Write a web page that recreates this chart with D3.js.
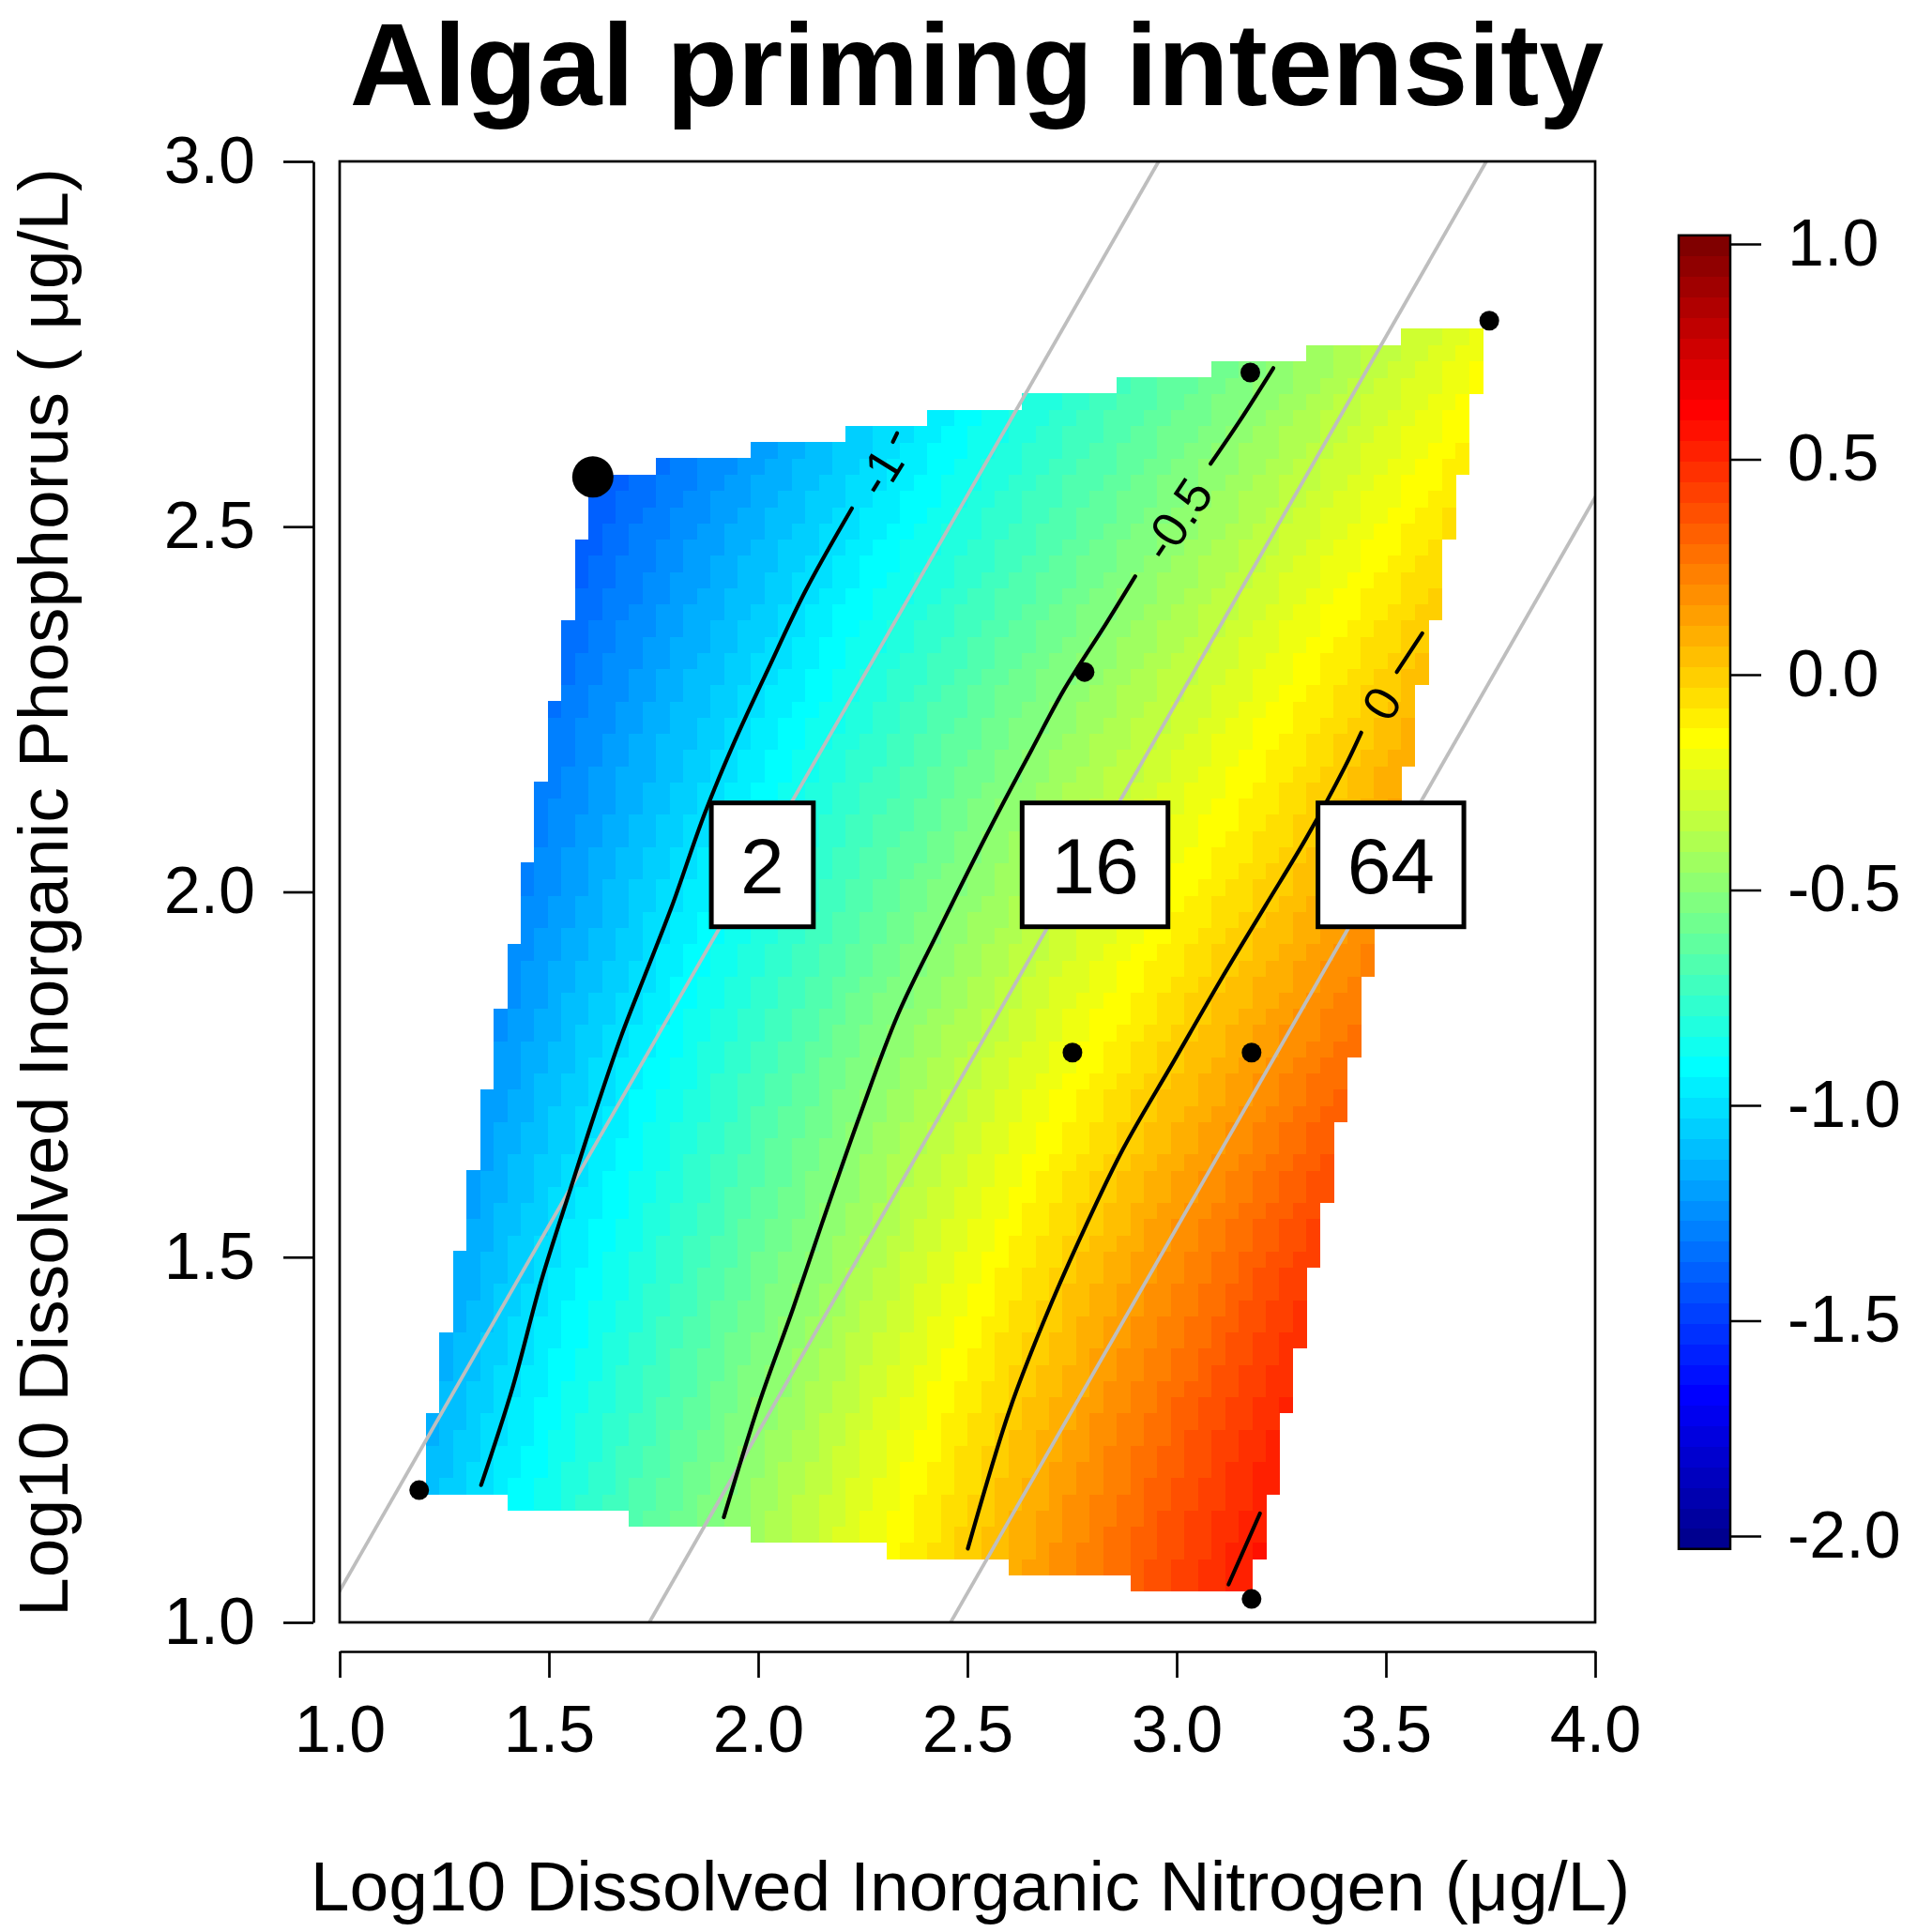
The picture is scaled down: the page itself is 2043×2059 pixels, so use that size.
<!DOCTYPE html>
<html>
<head>
<meta charset="utf-8">
<script src="https://cdn.jsdelivr.net/npm/d3@7"></script>
<style>
  body { margin: 0; background: #fff; }
  svg { display: block; }
  text { font-family: "Liberation Sans", Arial, Helvetica, sans-serif; fill: #000; }
</style>
</head>
<body>
<svg id="chart"></svg>
<script>
const width = 2043, height = 2059;

// sampled sites: log10 DIN and log10 DIP
const siteN = [1.190, 1.605, 3.176, 3.747, 2.780, 2.751, 3.179, 3.179];
const siteP = [1.181, 2.568, 2.711, 2.782, 2.301, 1.780, 1.780, 1.032];
const focalSite = 1;

// fitted surface at knots (rows = P, columns = N)
const knotN = [1.0, 1.25, 1.5, 1.75, 2.0, 2.25, 2.5, 2.75, 3.0, 3.25, 3.5, 3.75, 4.0];
const knotP = [1.0, 1.25, 1.5, 1.75, 2.0, 2.25, 2.5, 2.75, 3.0];
const zGrid = [
  [-1.19, -0.99, -0.78, -0.57, -0.37, -0.16, 0.04, 0.24, 0.44, 0.63, 0.83, 1.03, 1.23],
  [-1.31, -1.10, -0.89, -0.69, -0.48, -0.27, -0.07, 0.13, 0.33, 0.52, 0.72, 0.91, 1.11],
  [-1.40, -1.20, -1.00, -0.80, -0.60, -0.40, -0.20, 0.00, 0.19, 0.38, 0.57, 0.76, 0.95],
  [-1.50, -1.31, -1.11, -0.91, -0.72, -0.52, -0.34, -0.16, 0.02, 0.20, 0.37, 0.55, 0.73],
  [-1.60, -1.41, -1.23, -1.04, -0.86, -0.67, -0.49, -0.32, -0.15, 0.01, 0.18, 0.34, 0.51],
  [-1.67, -1.50, -1.33, -1.16, -0.99, -0.81, -0.64, -0.47, -0.31, -0.15, 0.02, 0.18, 0.34],
  [-1.77, -1.61, -1.45, -1.29, -1.13, -0.97, -0.81, -0.65, -0.49, -0.32, -0.16, 0.00, 0.17],
  [-1.90, -1.75, -1.59, -1.44, -1.28, -1.13, -0.98, -0.82, -0.67, -0.51, -0.34, -0.17, -0.01],
  [-1.99, -1.84, -1.70, -1.55, -1.41, -1.26, -1.12, -0.97, -0.83, -0.68, -0.53, -0.37, -0.19]
];
const gridSize = 80;
const zLimits = [-2.03, 1.02];
const nColors = 64;

// contour lines as traced, split where the labels sit
const contourM1 = [[1.338,1.188],[1.413,1.321],[1.482,1.468],[1.553,1.596],[1.608,1.694],[1.673,1.803],[1.733,1.891],[1.793,1.979],[1.872,2.107],[1.943,2.205],[2.023,2.304],[2.113,2.412],[2.224,2.525]];
const contourM1Tip = [[2.322,2.616],[2.332,2.628]];
const contourM05 = [[1.918,1.144],[2.003,1.301],[2.083,1.429],[2.153,1.547],[2.243,1.694],[2.334,1.832],[2.434,1.950],[2.554,2.087],[2.654,2.195],[2.731,2.277],[2.831,2.367],[2.901,2.432]];
const contourM05Tip = [[3.081,2.586],[3.151,2.645],[3.231,2.717]];
const contourZero = [[2.501,1.101],[2.601,1.291],[2.681,1.410],[2.771,1.528],[2.871,1.647],[2.991,1.766],[3.111,1.885],[3.211,1.980],[3.311,2.075],[3.401,2.170],[3.441,2.218]];
const contourZeroTip = [[3.526,2.301],[3.587,2.354]];
const contourHalf = [[3.124,1.052],[3.199,1.149]];

const contourLabelText = ["-1", "-0.5", "0"];
const contourLabelN = [2.29, 3.00, 3.49];
const contourLabelP = [2.575, 2.51, 2.258];

// N:P ratio lines (log10 P = log10 N - offset)
const ratioLabels = ["2", "16", "64"];
const ratioOffsets = [-0.043, 0.74, 1.46];
const ratioLabelN = [2.01, 2.805, 3.512];
const ratioLabelP = 2.037;

const xTicks = [1.0, 1.5, 2.0, 2.5, 3.0, 3.5, 4.0];
const yTicks = [1.0, 1.5, 2.0, 2.5, 3.0];
const zTicks = [-2.0, -1.5, -1.0, -0.5, 0.0, 0.5, 1.0];

const svg = d3.select("#chart").attr("width", width).attr("height", height);

const x = d3.scaleLinear().domain([1, 4]).range([362, 1700]);
const y = d3.scaleLinear().domain([1, 3]).range([1729, 172]);
const zy = d3.scaleLinear().domain([-2, 1]).range([1637, 260]);

// tim.colors(64) style jet palette
const jet = d3.scaleLinear()
  .domain([0, 7, 23, 39, 55, 63])
  .range(["#00008F", "#0000FF", "#00FFFF", "#FFFF00", "#FF0000", "#800000"])
  .interpolate(d3.interpolateRgb);
const palette = d3.range(nColors).map(jet);
const colorOf = z => {
  const k = Math.floor((z - zLimits[0]) / (zLimits[1] - zLimits[0]) * nColors);
  return palette[Math.max(0, Math.min(nColors - 1, k))];
};

function zAt(n, p) {
  const dn = knotN[1] - knotN[0], dp = knotP[1] - knotP[0];
  let i = Math.floor((n - knotN[0]) / dn), j = Math.floor((p - knotP[0]) / dp);
  i = Math.max(0, Math.min(knotN.length - 2, i));
  j = Math.max(0, Math.min(knotP.length - 2, j));
  const u = (n - knotN[i]) / dn, v = (p - knotP[j]) / dp;
  return (1 - u) * (1 - v) * zGrid[j][i] + u * (1 - v) * zGrid[j][i + 1]
       + (1 - u) * v * zGrid[j + 1][i] + u * v * zGrid[j + 1][i + 1];
}

svg.append("clipPath").attr("id", "plotclip")
  .append("rect").attr("x", 362).attr("y", 172).attr("width", 1338).attr("height", 1557);

// heat cells inside the convex hull of the sites
const sites = siteN.map((n, i) => ({ n, p: siteP[i] }));
const hull = d3.polygonHull(sites.map(d => [d.n, d.p]));
const nMin = d3.min(siteN), nMax = d3.max(siteN);
const pMin = d3.min(siteP), pMax = d3.max(siteP);
const stepN = (nMax - nMin) / (gridSize - 1), stepP = (pMax - pMin) / (gridSize - 1);
const cells = [];
for (let i = 0; i < gridSize; i++) {
  for (let j = 0; j < gridSize; j++) {
    const n = nMin + i * stepN, p = pMin + j * stepP;
    if (d3.polygonContains(hull, [n, p])) cells.push({ n, p, z: zAt(n, p) });
  }
}
const cw = x(1 + stepN) - x(1), ch = y(1) - y(1 + stepP);
svg.append("g").attr("clip-path", "url(#plotclip)")
  .selectAll("rect").data(cells).join("rect")
  .attr("x", d => x(d.n) - cw / 2)
  .attr("y", d => y(d.p) - ch / 2)
  .attr("width", cw + 0.6)
  .attr("height", ch + 0.6)
  .attr("fill", d => colorOf(d.z))
  .attr("shape-rendering", "crispEdges");

// ratio lines
svg.append("g").attr("clip-path", "url(#plotclip)")
  .selectAll("line").data(ratioOffsets).join("line")
  .attr("x1", d => x(0)).attr("y1", d => y(0 - d))
  .attr("x2", d => x(5)).attr("y2", d => y(5 - d))
  .attr("stroke", "#BEBEBE").attr("stroke-width", 3.8);

// contours
const line = d3.line().x(d => x(d[0])).y(d => y(d[1])).curve(d3.curveCatmullRom);
svg.append("g").attr("clip-path", "url(#plotclip)")
  .selectAll("path")
  .data([contourM1, contourM1Tip, contourM05, contourM05Tip, contourZero, contourZeroTip, contourHalf])
  .join("path")
  .attr("d", line)
  .attr("fill", "none").attr("stroke", "#000").attr("stroke-width", 4.2)
  .attr("stroke-linejoin", "round").attr("stroke-linecap", "round");

const gaps = [[contourM1, contourM1Tip], [contourM05, contourM05Tip], [contourZero, contourZeroTip]];
svg.append("g").selectAll("text").data(contourLabelText).join("text")
  .attr("transform", (d, i) => {
    const a = gaps[i][0][gaps[i][0].length - 1], b = gaps[i][1][0];
    const ang = Math.atan2(y(b[1]) - y(a[1]), x(b[0]) - x(a[0])) * 180 / Math.PI;
    return `translate(${x(contourLabelN[i])},${y(contourLabelP[i])}) rotate(${ang})`;
  })
  .attr("text-anchor", "middle").attr("dy", "0.35em")
  .style("font-size", "53px")
  .text(d => d);

// ratio label boxes
const boxes = svg.append("g").selectAll("g").data(ratioLabels).join("g")
  .attr("transform", (d, i) => `translate(${x(ratioLabelN[i])},${y(ratioLabelP)})`);
boxes.append("rect").attr("class", "lbox");
boxes.append("text")
  .attr("text-anchor", "middle").attr("dy", "0.36em")
  .style("font-size", "84px")
  .text(d => d);
boxes.each(function () {
  const g = d3.select(this);
  const w = g.select("text").node().getComputedTextLength() + 62;
  g.select("rect").attr("x", -w / 2).attr("y", -66).attr("width", w).attr("height", 132)
    .attr("fill", "#fff").attr("stroke", "#000").attr("stroke-width", 5);
});

// sites
svg.append("g").selectAll("circle").data(sites).join("circle")
  .attr("cx", d => x(d.n)).attr("cy", d => y(d.p))
  .attr("r", (d, i) => i === focalSite ? 22 : 10.5)
  .attr("fill", "#000");

// plot box
svg.append("rect").attr("x", 362).attr("y", 172).attr("width", 1338).attr("height", 1557)
  .attr("fill", "none").attr("stroke", "#000").attr("stroke-width", 2.7);

// axes
const styleAxis = g => {
  g.selectAll("path, line").attr("stroke", "#000").attr("stroke-width", 2.7);
  g.selectAll("text").style("font-size", "70px").attr("fill", "#000")
    .style("font-family", '"Liberation Sans", Arial, sans-serif');
};
svg.append("g").attr("transform", "translate(0,1760)")
  .call(d3.axisBottom(x).tickValues(xTicks).tickSize(28).tickSizeOuter(0).tickPadding(29)
    .tickFormat(d => d.toFixed(1)))
  .call(styleAxis);
svg.append("g").attr("transform", "translate(334,0)")
  .call(d3.axisLeft(y).tickValues(yTicks).tickSize(32).tickSizeOuter(0).tickPadding(30)
    .tickFormat(d => d.toFixed(1)))
  .call(styleAxis);

// colour bar
const bandH = (zy(zLimits[0]) - zy(zLimits[1])) / nColors;
svg.append("g").selectAll("rect").data(palette).join("rect")
  .attr("x", 1789).attr("width", 55)
  .attr("y", (d, k) => zy(zLimits[0]) - (k + 1) * bandH)
  .attr("height", bandH + 0.6)
  .attr("fill", d => d)
  .attr("shape-rendering", "crispEdges");
svg.append("rect").attr("x", 1789).attr("width", 55)
  .attr("y", zy(zLimits[1])).attr("height", zy(zLimits[0]) - zy(zLimits[1]))
  .attr("fill", "none").attr("stroke", "#000").attr("stroke-width", 2.5);
svg.append("g").attr("transform", "translate(1844,0)")
  .call(d3.axisRight(zy).tickValues(zTicks).tickSize(33).tickSizeOuter(0).tickPadding(28)
    .tickFormat(d => d.toFixed(1)))
  .call(styleAxis)
  .call(g => g.select(".domain").remove());

// titles
svg.append("text").attr("x", 1041).attr("y", 112).attr("text-anchor", "middle")
  .style("font-size", "124px").style("font-weight", "bold")
  .text("Algal priming intensity");
svg.append("text").attr("x", 1034).attr("y", 2036).attr("text-anchor", "middle")
  .style("font-size", "75px")
  .text("Log10 Dissolved Inorganic Nitrogen (\u03BCg/L)");
svg.append("text").attr("transform", "translate(72,951) rotate(-90)").attr("text-anchor", "middle")
  .style("font-size", "75px")
  .text("Log10 Dissolved Inorganic Phosphorus ( \u03BCg/L)");
</script>
</body>
</html>
